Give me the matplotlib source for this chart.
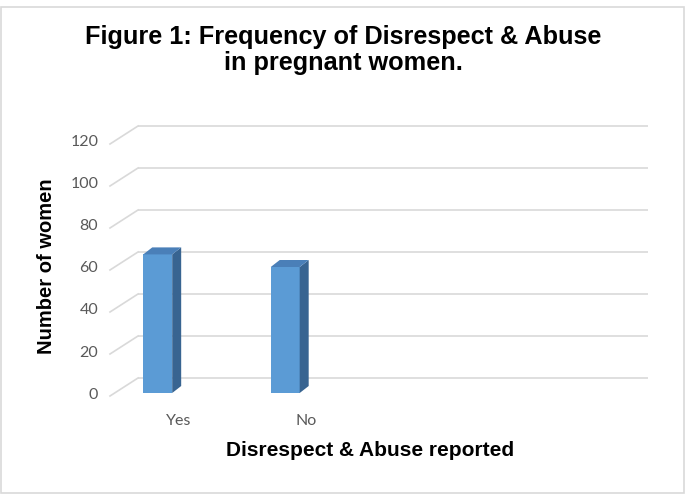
import matplotlib
matplotlib.use("Agg")
import matplotlib.pyplot as plt
from matplotlib.patches import Polygon, Rectangle
from matplotlib.transforms import ScaledTranslation
from matplotlib.lines import Line2D

categories = ['Yes', 'No']
counts = [66, 60]
y_ticks = [0, 20, 40, 60, 80, 100, 120]

dpi = 100
fig = plt.figure(figsize=(6.85, 4.94), dpi=dpi)
fig.patch.set_facecolor('white')

# outer frame
fig.add_artist(Rectangle((0.001, 0.002), 0.997, 0.984, transform=fig.transFigure,
                         fill=False, edgecolor='#d9d9d9', linewidth=1.2))

# front plane of the 3d chart
ax = fig.add_axes([115 / 685, 101 / 494, 510 / 685, 252 / 494])
ax.set_xlim(-0.5, 3.5)
ax.set_ylim(0, 120)
for s in ax.spines.values():
    s.set_visible(False)
ax.patch.set_alpha(0)
ax.tick_params(length=0)

# depth of the floor / walls (pixels)
wall_dx, wall_dy = 23, 15
back = ax.transData + ScaledTranslation(wall_dx / dpi, wall_dy / dpi, fig.dpi_scale_trans)

grid_col = '#d9d9d9'
ax.hlines(y_ticks, -0.5, 3.5, colors=grid_col, linewidth=1.2, transform=back, zorder=1,
          clip_on=False)
for t in y_ticks:
    p0 = ax.transData.transform((-0.5, t))
    p1 = back.transform((-0.5, t))
    fig.add_artist(Line2D([p0[0] - 5, p1[0]], [p0[1] - 3, p1[1]], transform=None,
                          color=grid_col, linewidth=1.2, zorder=1))

ax.set_yticks(y_ticks)
ax.set_yticklabels([str(t) for t in y_ticks], fontsize=11.5, color='#595959', family='Lato')
ax.tick_params(axis='y', pad=12)
ax.set_xticks(range(len(categories)))
ax.set_xticklabels(categories, fontsize=11.5, color='#595959', family='Lato')
ax.tick_params(axis='x', pad=15)

# bars: front faces plus side/top faces for the 3d look
bar_shift = -0.165
bar_w = 0.227
xs = [i + bar_shift for i in range(len(categories))]
bars = ax.bar(xs, counts, width=bar_w, color='#5b9bd5', zorder=3)
depth_dx, depth_dy = 9, 7
for b in bars:
    x0, y0 = b.get_x(), b.get_y()
    x1, y1 = x0 + b.get_width(), y0 + b.get_height()
    bl = ax.transData.transform((x1, y0))
    tr = ax.transData.transform((x1, y1))
    tl = ax.transData.transform((x0, y1))
    side = [bl, tr, (tr[0] + depth_dx, tr[1] + depth_dy), (bl[0] + depth_dx, bl[1] + depth_dy)]
    top = [tl, tr, (tr[0] + depth_dx, tr[1] + depth_dy), (tl[0] + depth_dx, tl[1] + depth_dy)]
    fig.add_artist(Polygon(side, closed=True, transform=None, facecolor='#386491',
                           edgecolor='none', zorder=4))
    fig.add_artist(Polygon(top, closed=True, transform=None, facecolor='#4a7fb8',
                           edgecolor='none', zorder=4))

fig.text(343 / 685, 1 - 50 / 494, 'Figure 1: Frequency of Disrespect & Abuse\nin pregnant women.',
         ha='center', va='center', fontsize=18.2, fontweight='bold',
         family='Liberation Sans', linespacing=1.1)
fig.text(370 / 685, 1 - 450 / 494, 'Disrespect & Abuse reported', ha='center', va='center',
         fontsize=15, fontweight='bold', family='Liberation Sans')
fig.text(47 / 685, 1 - 266 / 494, 'Number of women', ha='center', va='center', rotation=90,
         fontsize=14.5, fontweight='bold', family='Liberation Sans')

fig.savefig('out.png', dpi=dpi)
